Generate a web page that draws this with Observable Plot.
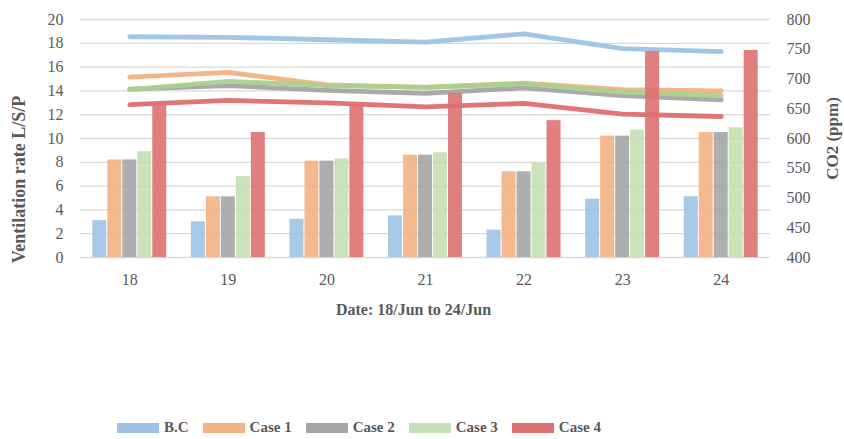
<!DOCTYPE html>
<html>
<head>
<meta charset="utf-8">
<script src="https://cdn.jsdelivr.net/npm/d3@7"></script>
<script src="https://cdn.jsdelivr.net/npm/@observablehq/plot@0.6"></script>
<style>
  html, body { margin: 0; padding: 0; background: #fff; }
  #chart { width: 844px; }
  .legend { display: flex; justify-content: flex-start; align-items: center; height: 23px; padding-top: 6px;
    font-family: "Liberation Serif", "Times New Roman", serif; font-weight: bold; font-size: 15px; color: #595959;
    padding-left: 117px; }
  .legend .item { display: flex; align-items: center; margin-right: 14px; }
  .legend .sw { width: 42px; height: 10px; margin-right: 5px; }
</style>
</head>
<body>
<div id="chart"></div>
<script>
const dates = [18, 19, 20, 21, 22, 23, 24];
const series = ["B.C", "Case 1", "Case 2", "Case 3", "Case 4"];

// Ventilation rate (L/S/P) — bars, left axis
const ventBC    = [3.1, 3.0, 3.2, 3.5, 2.3, 4.9, 5.1];
const ventCase1 = [8.2, 5.1, 8.1, 8.6, 7.2, 10.2, 10.5];
const ventCase2 = [8.2, 5.1, 8.1, 8.6, 7.2, 10.2, 10.5];
const ventCase3 = [8.9, 6.8, 8.3, 8.8, 7.9, 10.7, 10.9];
const ventCase4 = [12.9, 10.5, 12.9, 13.8, 11.5, 17.3, 17.4];

// CO2 (ppm) — lines, right axis
const co2BC    = [771, 770, 766, 762, 776, 751, 746];
const co2Case1 = [703, 711, 690, 686, 693, 682, 680];
const co2Case2 = [683, 689, 681, 676, 685, 672, 665];
const co2Case3 = [682, 696, 689, 686, 692, 678, 672];
const co2Case4 = [657, 664, 660, 653, 659, 641, 637];

const leftTicks = [0, 2, 4, 6, 8, 10, 12, 14, 16, 18, 20];
const rightTicks = [400, 450, 500, 550, 600, 650, 700, 750, 800];

const barColors  = ["#9DC3E6", "#F4B183", "#A5A5A5", "#C5E0B4", "#DE7070"];
const lineColors = ["#9DC3E6", "#F4B183", "#A5A5A5", "#A9D18E", "#DF6E6E"];

const vent = [ventBC, ventCase1, ventCase2, ventCase3, ventCase4];
const co2 = [co2BC, co2Case1, co2Case2, co2Case3, co2Case4];

// CO2 mapped onto the left scale: 400..800 -> 0..20
const co2min = 400, co2max = 800, vmax = 20;
const toLeft = v => (v - co2min) / (co2max - co2min) * vmax;
const fromLeft = v => Math.round(co2min + v / vmax * (co2max - co2min));

const barW = 0.152;
const barData = [];
series.forEach((s, i) => dates.forEach((d, j) => barData.push({
  series: s, date: d, value: vent[i][j],
  x1: d + (i - 2.5) * barW, x2: d + (i - 1.5) * barW
})));

const lineMarks = series.map((s, i) => Plot.lineY(
  dates.map((d, j) => ({date: d, v: toLeft(co2[i][j])})),
  {x: "date", y: "v", stroke: lineColors[i], strokeWidth: 4.8, strokeLinecap: "round", strokeLinejoin: "round", strokeOpacity: 0.95}
));

const font = "'Liberation Serif', 'Times New Roman', serif";

const chart = Plot.plot({
  width: 844,
  height: 410,
  marginLeft: 80,
  marginRight: 74,
  marginTop: 19,
  marginBottom: 153,
  style: {fontFamily: font, fontSize: "16px", color: "#595959", background: "#fff"},
  x: {domain: [17.5, 24.5]},
  y: {domain: [0, vmax]},
  color: {domain: series, range: barColors},
  marks: [
    Plot.gridY(leftTicks, {stroke: "#D9D9D9", strokeOpacity: 1, strokeWidth: 1.3}),
    ...lineMarks,
    Plot.rectY(barData, {x1: "x1", x2: "x2", y1: 0, y2: "value", fill: "series", fillOpacity: 0.9, insetLeft: 0.5, insetRight: 0.5}),
    Plot.axisX(dates, {tickSize: 0, tickPadding: 16, label: null, fontSize: 16, fill: "#595959"}),
    Plot.axisY(leftTicks, {anchor: "left", tickSize: 0, tickPadding: 17, label: null, fontSize: 16, fill: "#595959"}),
    Plot.axisY(rightTicks.map(toLeft), {anchor: "right", tickSize: 0, tickPadding: 16, label: null, fontSize: 16, fill: "#595959", tickFormat: v => fromLeft(v)}),
    Plot.text(["Date: 18/Jun to 24/Jun"], {frameAnchor: "bottom", textAnchor: "middle", lineAnchor: "middle", dx: -12, dy: 52, fontWeight: "bold", fontSize: 16, fill: "#595959"}),
    Plot.text(["Ventilation rate L/S/P"], {frameAnchor: "left", textAnchor: "middle", lineAnchor: "middle", dx: -61.5, dy: 41, rotate: -90, fontWeight: "bold", fontSize: 18, fill: "#595959"}),
    Plot.text(["CO2 (ppm)"], {frameAnchor: "right", textAnchor: "middle", lineAnchor: "middle", dx: 62, dy: 0, rotate: -90, fontWeight: "bold", fontSize: 17, fill: "#595959"})
  ]
});
document.getElementById("chart").appendChild(chart);

const legend = document.createElement("div");
legend.className = "legend";
series.forEach((s, i) => {
  const it = document.createElement("div");
  it.className = "item";
  const sw = document.createElement("div");
  sw.className = "sw";
  sw.style.background = barColors[i];
  const tx = document.createElement("span");
  tx.textContent = s;
  it.appendChild(sw); it.appendChild(tx);
  legend.appendChild(it);
});
document.getElementById("chart").appendChild(legend);
</script>
</body>
</html>
